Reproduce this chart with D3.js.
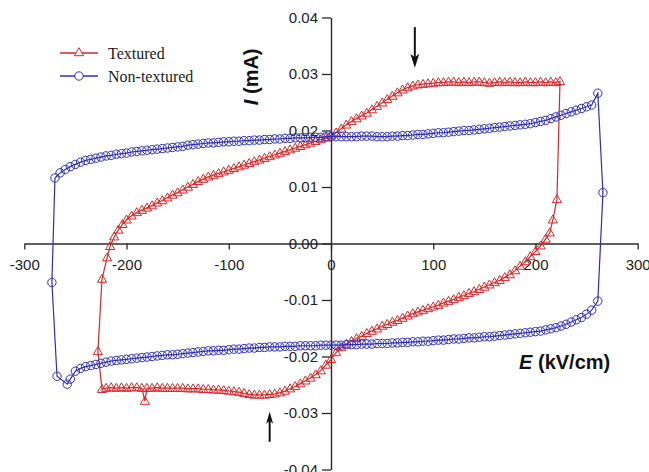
<!DOCTYPE html>
<html>
<head>
<meta charset="utf-8">
<script src="https://cdn.jsdelivr.net/npm/d3@7"></script>
<style>
  body { margin: 0; background: #fff; }
  svg { display: block; }
</style>
</head>
<body>
<svg id="chart" width="649" height="472"></svg>
<script>
// Field (kV/cm) and current (mA) along the loop, textured film
const texturedE = [
  -216, -212, -208, -204, -200, -195, -190, -185, -180, -175, -170, -165, -160, -155, -150,
  -145, -140, -135, -130, -125, -120, -115, -110, -105, -100, -95, -90, -85, -80, -75,
  -70, -65, -60, -55, -50, -45, -40, -35, -30, -25, -20, -15, -10, -5, 0,
  5, 10, 15, 20, 25, 30, 35, 40, 45, 50, 55, 60, 65, 70, 75,
  80, 85, 90, 95, 100, 105, 110, 115, 120, 125, 130, 135, 140, 145, 150,
  155, 160, 165, 170, 175, 180, 185, 190, 195, 200, 205, 210, 215, 220, 224,
  221, 217, 214, 210, 205, 200, 195, 190, 185, 180, 175, 170, 165, 160, 155,
  150, 145, 140, 135, 130, 125, 120, 115, 110, 105, 100, 95, 90, 85, 80,
  75, 70, 65, 60, 55, 50, 45, 40, 35, 30, 25, 20, 15, 10, 5,
  0, -5, -10, -15, -20, -25, -30, -35, -40, -45, -50, -55, -60, -65, -70,
  -75, -80, -85, -90, -95, -100, -105, -110, -115, -120, -125, -130, -135, -140, -145,
  -150, -155, -160, -165, -170, -175, -180, -182, -185, -190, -195, -200, -205, -210, -215,
  -220, -224, -228, -224, -219
];
const texturedI = [
  -0.0005, 0.0012, 0.0024, 0.0034, 0.0042, 0.0049, 0.0055, 0.0059, 0.0063, 0.0067, 0.0072, 0.0076, 0.0081, 0.0086, 0.0090,
  0.0095, 0.0100, 0.0105, 0.0110, 0.0114, 0.0118, 0.0121, 0.0124, 0.0127, 0.0130, 0.0133, 0.0136, 0.0139, 0.0142, 0.0145,
  0.0148, 0.0151, 0.0154, 0.0157, 0.0160, 0.0163, 0.0166, 0.0169, 0.0172, 0.0175, 0.0178, 0.0181, 0.0184, 0.0187, 0.0191,
  0.0196, 0.0203, 0.0210, 0.0216, 0.0221, 0.0226, 0.0231, 0.0237, 0.0243, 0.0249, 0.0255, 0.0261, 0.0267, 0.0272, 0.0276,
  0.0279, 0.0281, 0.0282, 0.0283, 0.0284, 0.0285, 0.0285, 0.0286, 0.0286, 0.0285, 0.0286, 0.0285, 0.0286, 0.0286, 0.0285,
  0.0284, 0.0285, 0.0286, 0.0285, 0.0286, 0.0285, 0.0285, 0.0286, 0.0285, 0.0285, 0.0286, 0.0285, 0.0286, 0.0285, 0.0287,
  0.0078, 0.0042, 0.0019, 0.0008, -0.0004, -0.0014, -0.0023, -0.0032, -0.0040, -0.0048, -0.0055, -0.0060, -0.0065, -0.0069, -0.0073,
  -0.0077, -0.0081, -0.0085, -0.0088, -0.0092, -0.0095, -0.0099, -0.0102, -0.0105, -0.0109, -0.0112, -0.0115, -0.0118, -0.0121, -0.0124,
  -0.0128, -0.0132, -0.0136, -0.0139, -0.0143, -0.0146, -0.0151, -0.0155, -0.0159, -0.0164, -0.0168, -0.0173, -0.0178, -0.0184, -0.0193,
  -0.0205, -0.0215, -0.0225, -0.0232, -0.0238, -0.0243, -0.0248, -0.0253, -0.0257, -0.0261, -0.0264, -0.0266, -0.0267, -0.0268, -0.0268,
  -0.0268, -0.0267, -0.0265, -0.0263, -0.0262, -0.0261, -0.0260, -0.0259, -0.0259, -0.0258, -0.0258, -0.0257, -0.0257, -0.0257, -0.0256,
  -0.0256, -0.0256, -0.0256, -0.0256, -0.0255, -0.0256, -0.0256, -0.0279, -0.0256, -0.0255, -0.0255, -0.0256, -0.0255, -0.0256, -0.0255,
  -0.0256, -0.0258, -0.0191, -0.0063, -0.0025
];

// Field (kV/cm) and current (mA) along the loop, non-textured film
const nonTexturedE = [
  -270, -265, -260, -255, -250, -245, -240, -235, -230, -225, -220, -215, -210, -205, -200,
  -195, -190, -185, -180, -175, -170, -165, -160, -155, -150, -145, -140, -135, -130, -125,
  -120, -115, -110, -105, -100, -95, -90, -85, -80, -75, -70, -65, -60, -55, -50,
  -45, -40, -35, -30, -25, -20, -15, -10, -5, 0, 5, 10, 15, 20, 25,
  30, 35, 40, 45, 50, 55, 60, 65, 70, 75, 80, 85, 90, 95, 100,
  105, 110, 115, 120, 125, 130, 135, 140, 145, 150, 155, 160, 165, 170, 175,
  180, 185, 190, 195, 200, 205, 210, 215, 220, 225, 230, 235, 240, 245, 250,
  255, 261, 266, 261, 255, 250, 245, 240, 235, 230, 225, 220, 215, 210, 205,
  200, 195, 190, 185, 180, 175, 170, 165, 160, 155, 150, 145, 140, 135, 130,
  125, 120, 115, 110, 105, 100, 95, 90, 85, 80, 75, 70, 65, 60, 55,
  50, 45, 40, 35, 30, 25, 20, 15, 10, 5, 0, -5, -10, -15, -20,
  -25, -30, -35, -40, -45, -50, -55, -60, -65, -70, -75, -80, -85, -90, -95,
  -100, -105, -110, -115, -120, -125, -130, -135, -140, -145, -150, -155, -160, -165, -170,
  -175, -180, -185, -190, -195, -200, -205, -210, -215, -220, -225, -230, -235, -240, -245,
  -250, -255, -258, -268, -273
];
const nonTexturedI = [
  0.0116, 0.0125, 0.0131, 0.0136, 0.0140, 0.0144, 0.0147, 0.0149, 0.0151, 0.0153, 0.0155, 0.0156, 0.0158, 0.0159, 0.0160,
  0.0162, 0.0163, 0.0164, 0.0165, 0.0166, 0.0167, 0.0168, 0.0169, 0.0170, 0.0171, 0.0172, 0.0174, 0.0175, 0.0176, 0.0177,
  0.0178, 0.0178, 0.0179, 0.0180, 0.0180, 0.0181, 0.0181, 0.0182, 0.0182, 0.0183, 0.0183, 0.0184, 0.0184, 0.0185, 0.0185,
  0.0186, 0.0186, 0.0187, 0.0187, 0.0187, 0.0188, 0.0188, 0.0188, 0.0189, 0.0189, 0.0189, 0.0189, 0.0189, 0.0189, 0.0189,
  0.0190, 0.0190, 0.0190, 0.0189, 0.0189, 0.0189, 0.0190, 0.0190, 0.0191, 0.0191, 0.0192, 0.0193, 0.0193, 0.0194, 0.0195,
  0.0196, 0.0196, 0.0197, 0.0198, 0.0199, 0.0200, 0.0200, 0.0201, 0.0202, 0.0203, 0.0204, 0.0205, 0.0206, 0.0207, 0.0208,
  0.0209, 0.0210, 0.0211, 0.0212, 0.0214, 0.0216, 0.0218, 0.0221, 0.0224, 0.0227, 0.0230, 0.0233, 0.0236, 0.0239, 0.0242,
  0.0245, 0.0266, 0.0090, -0.0102, -0.0118, -0.0125, -0.0131, -0.0135, -0.0139, -0.0143, -0.0146, -0.0149, -0.0151, -0.0153, -0.0155,
  -0.0156, -0.0157, -0.0158, -0.0159, -0.0160, -0.0161, -0.0162, -0.0163, -0.0164, -0.0165, -0.0165, -0.0166, -0.0167, -0.0167, -0.0168,
  -0.0169, -0.0169, -0.0170, -0.0171, -0.0171, -0.0172, -0.0173, -0.0173, -0.0174, -0.0174, -0.0175, -0.0175, -0.0176, -0.0176, -0.0177,
  -0.0177, -0.0177, -0.0178, -0.0178, -0.0178, -0.0179, -0.0179, -0.0179, -0.0180, -0.0180, -0.0180, -0.0180, -0.0180, -0.0181, -0.0181,
  -0.0181, -0.0181, -0.0182, -0.0182, -0.0182, -0.0183, -0.0183, -0.0183, -0.0184, -0.0184, -0.0185, -0.0185, -0.0186, -0.0187, -0.0187,
  -0.0188, -0.0189, -0.0189, -0.0190, -0.0190, -0.0191, -0.0192, -0.0193, -0.0194, -0.0195, -0.0196, -0.0197, -0.0197, -0.0198, -0.0199,
  -0.0200, -0.0201, -0.0202, -0.0203, -0.0204, -0.0205, -0.0206, -0.0207, -0.0208, -0.0210, -0.0212, -0.0214, -0.0216, -0.0218, -0.0221,
  -0.0226, -0.0240, -0.0249, -0.0235, -0.0069
];

const seriesNames = ["Textured", "Non-textured"];
const seriesColors = ["#d92626", "#2d2dbf"];

const xTickValues = [-300, -200, -100, 0, 100, 200, 300];
const xMinorValues = [-250, -150, -50, 50, 150, 250];
const yTickValues = [-0.04, -0.03, -0.02, -0.01, 0.00, 0.01, 0.02, 0.03, 0.04];
const yMinorValues = [-0.035, -0.025, -0.015, -0.005, 0.005, 0.015, 0.025, 0.035];

// Arrow annotations: field position and current span (tail -> head)
const arrowDown = { e: 82, from: 0.0383, to: 0.0311 };
const arrowUp = { e: -60, from: -0.0351, to: -0.0298 };

const svg = d3.select("#chart");
const W = 649, H = 472;

const x = d3.scaleLinear().domain([-300, 300]).range([24.3, 637.7]);
const y = d3.scaleLinear().domain([-0.04, 0.04]).range([469.5, 17.5]);

const axisColor = "#2b2b2b";
const sans = "'Liberation Sans', Arial, Helvetica, sans-serif";
const serif = "'Liberation Serif', 'Times New Roman', Times, serif";

function styleAxis(g) {
  g.selectAll("path.domain").attr("stroke", axisColor).attr("stroke-width", 1.4);
  g.selectAll(".tick line").attr("stroke", axisColor).attr("stroke-width", 1.3);
  g.selectAll(".tick text").attr("fill", "#222").style("font-family", sans).style("font-size", "15px");
}

// x axis through I = 0
const gx = svg.append("g").attr("transform", `translate(0,${y(0)})`);
gx.call(d3.axisBottom(x).tickValues(xMinorValues).tickSize(3).tickSizeOuter(0).tickFormat(""));
gx.call(d3.axisBottom(x).tickValues(xTickValues).tickSize(6).tickSizeOuter(0).tickPadding(10)
  .tickFormat(d => String(d)));
styleAxis(gx);

// y axis through E = 0
const gy = svg.append("g").attr("transform", `translate(${x(0)},0)`);
gy.call(d3.axisLeft(y).tickValues(yMinorValues).tickSize(5).tickSizeOuter(0).tickFormat(""));
gy.call(d3.axisLeft(y).tickValues(yTickValues).tickSize(9).tickSizeOuter(0).tickPadding(4)
  .tickFormat(d => d.toFixed(2)));
styleAxis(gy);

// Axis titles
svg.append("text")
  .attr("transform", `translate(258,${y(0.0295)}) rotate(-90)`)
  .attr("text-anchor", "middle")
  .style("font-family", sans).style("font-size", "20px").style("font-weight", "bold")
  .attr("fill", "#111")
  .call(t => {
    t.append("tspan").style("font-style", "italic").text("I");
    t.append("tspan").text(" (mA)");
  });

svg.append("text")
  .attr("x", x(184)).attr("y", y(-0.0222))
  .style("font-family", sans).style("font-size", "20px").style("font-weight", "bold")
  .attr("fill", "#111")
  .call(t => {
    t.append("tspan").style("font-style", "italic").text("E");
    t.append("tspan").text(" (kV/cm)");
  });

// Series
const triPath = "M0,-4.8L4.6,3.2L-4.6,3.2Z";
const line = d3.line().x(d => x(d.e)).y(d => y(d.i));

const textured = texturedE.map((e, k) => ({ e, i: texturedI[k] }));
const nonTextured = nonTexturedE.map((e, k) => ({ e, i: nonTexturedI[k] }));

function drawSeries(data, color, marker) {
  const g = svg.append("g");
  g.append("path").datum(data.concat([data[0]]))
    .attr("d", line).attr("fill", "none").attr("stroke", color).attr("stroke-width", 1.2);
  if (marker === "triangle") {
    g.selectAll("path.m").data(data).join("path").attr("class", "m")
      .attr("d", triPath)
      .attr("transform", d => `translate(${x(d.e)},${y(d.i)})`)
      .attr("fill", "none").attr("stroke", color).attr("stroke-width", 1);
  } else {
    g.selectAll("circle").data(data).join("circle")
      .attr("cx", d => x(d.e)).attr("cy", d => y(d.i)).attr("r", 4.2)
      .attr("fill", "none").attr("stroke", color).attr("stroke-width", 1);
  }
}
drawSeries(textured, seriesColors[0], "triangle");
drawSeries(nonTextured, seriesColors[1], "circle");

// Legend
const legend = svg.append("g").attr("transform", "translate(60,53)");
seriesNames.forEach((name, k) => {
  const row = legend.append("g").attr("transform", `translate(0,${k * 23})`);
  row.append("line").attr("x1", 0).attr("x2", 38).attr("y1", 0).attr("y2", 0)
    .attr("stroke", seriesColors[k]).attr("stroke-width", 1.4);
  if (k === 0) {
    row.append("path").attr("d", triPath).attr("transform", "translate(19,-0.5)")
      .attr("fill", "#fff").attr("stroke", seriesColors[k]).attr("stroke-width", 1);
  } else {
    row.append("circle").attr("cx", 19).attr("cy", 0).attr("r", 4.2)
      .attr("fill", "#fff").attr("stroke", seriesColors[k]).attr("stroke-width", 1);
  }
  row.append("text").attr("x", 48).attr("y", 6)
    .style("font-family", serif).style("font-size", "16px").attr("fill", "#222")
    .text(name);
});

// Arrows
function arrow(a, headLen, headW) {
  const xa = x(a.e), y0 = y(a.from), y1 = y(a.to);
  const dir = y1 > y0 ? 1 : -1;
  svg.append("line").attr("x1", xa).attr("x2", xa).attr("y1", y0).attr("y2", y1 - dir * headLen * 0.7)
    .attr("stroke", "#111").attr("stroke-width", 2);
  svg.append("path")
    .attr("d", `M${xa},${y1}L${xa - headW / 2},${y1 - dir * headLen}L${xa},${y1 - dir * headLen * 0.75}L${xa + headW / 2},${y1 - dir * headLen}Z`)
    .attr("fill", "#111");
}
arrow(arrowDown, 14, 9);
arrow(arrowUp, 12, 7);
</script>
</body>
</html>
